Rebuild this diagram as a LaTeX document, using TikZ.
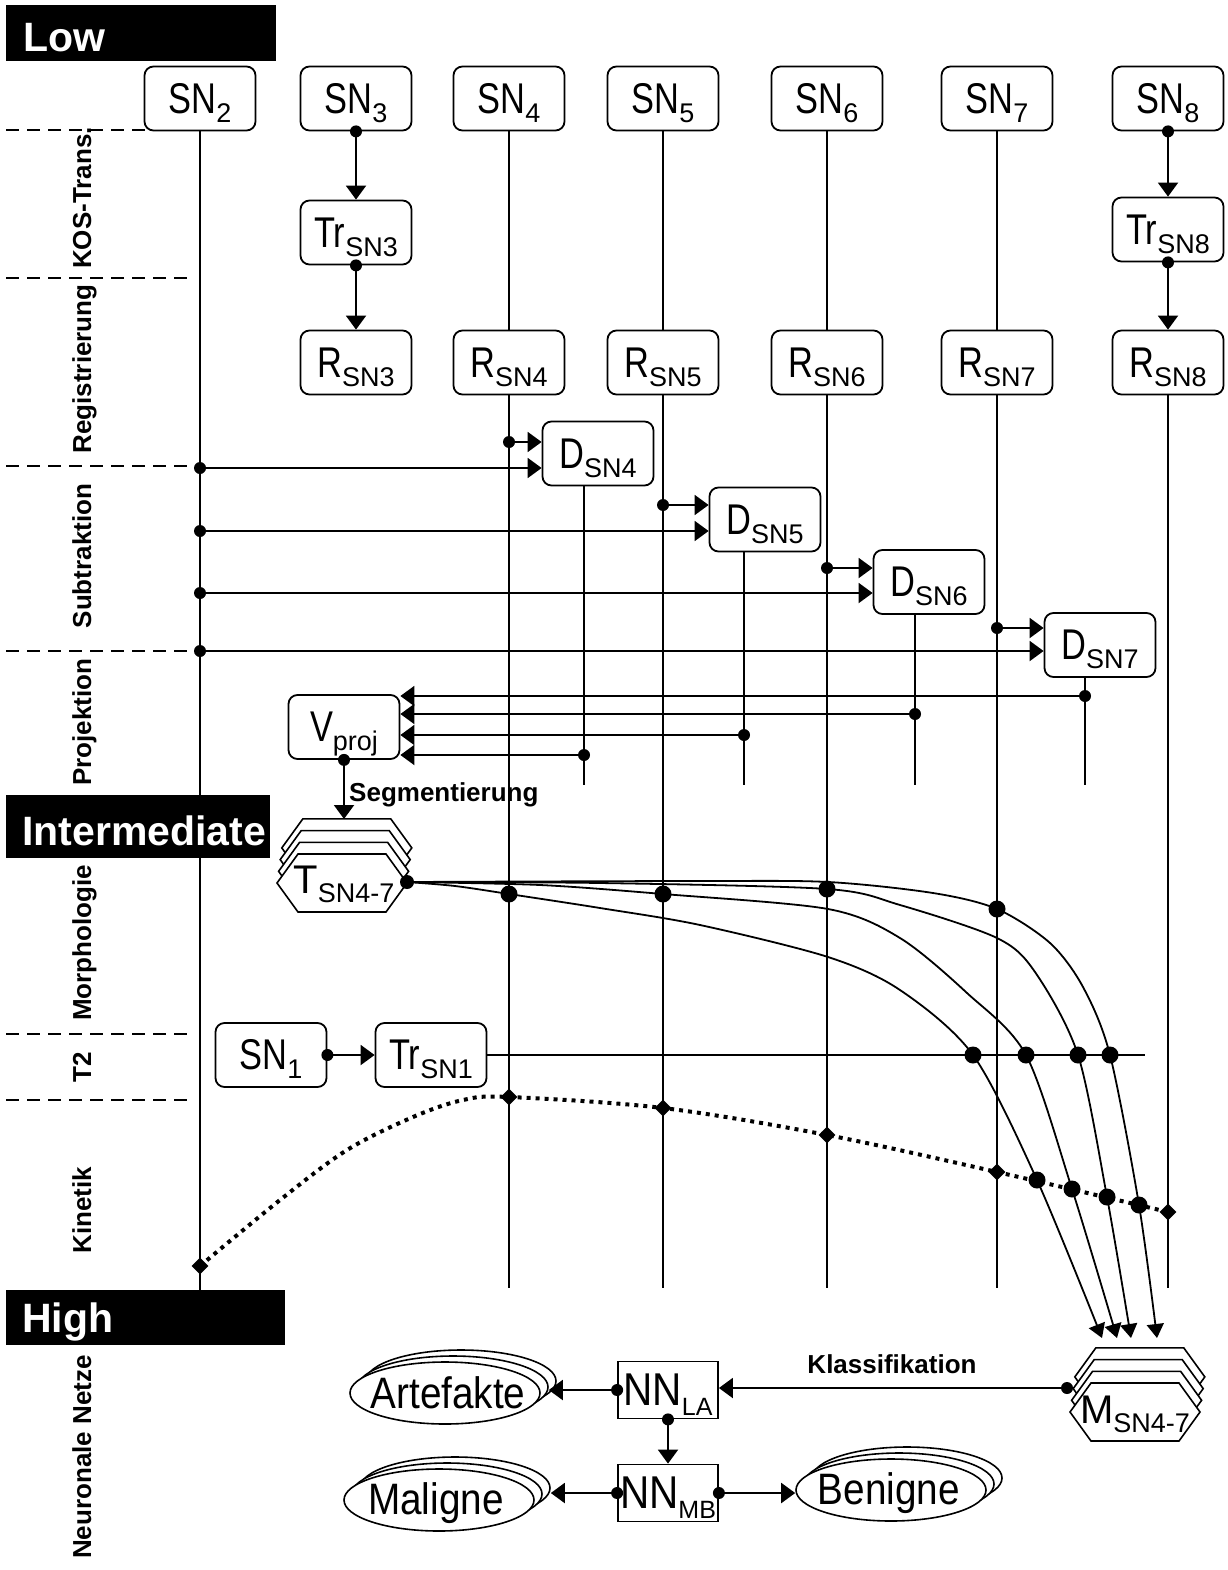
\documentclass[tikz,border=0pt]{standalone}
\usepackage{fontspec}
\setmainfont{Liberation Sans}
\newfontfamily\nar[FakeStretch=0.8]{Liberation Sans}
\newfontfamily\narb[FakeStretch=0.88]{Liberation Sans}
\usetikzlibrary{arrows.meta,shapes.geometric,calc}
\newcommand\lbl[2]{{\nar\fontsize{43}{43}\selectfont #1}\raisebox{-9pt}[0pt][0pt]{\fontsize{27}{27}\selectfont #2}}
\newcommand\lbln[2]{{\fontsize{40}{40}\selectfont #1}\raisebox{-9pt}[0pt][0pt]{\fontsize{27}{27}\selectfont #2}}
\newcommand\lblnn[2]{{\narb\fontsize{46}{46}\selectfont #1}\raisebox{-10pt}[0pt][0pt]{\fontsize{25}{25}\selectfont #2}}
\newcommand\hexat[2]{%
  \foreach \i in {3,2,1,0}{
    \draw[line width=1.6pt, fill=white] ({#1-65+1.6*\i},{#2-11.7*\i}) -- ({#1-44+1.6*\i},{#2-29-11.7*\i}) -- ({#1+44+1.6*\i},{#2-29-11.7*\i}) -- ({#1+65+1.6*\i},{#2-11.7*\i}) -- ({#1+44+1.6*\i},{#2+29-11.7*\i}) -- ({#1-44+1.6*\i},{#2+29-11.7*\i}) -- cycle;
  }}
\newcommand\dotat[2][6pt]{\fill (#2) circle (#1);}
\begin{document}
\begin{tikzpicture}[x=1pt,y=-1pt,
  box/.style={draw, line width=1.8pt, rounded corners=9pt, fill=white, minimum width=111pt, minimum height=64pt, inner sep=0pt},
  sqbox/.style={draw, line width=1.8pt, fill=white, minimum width=100pt, minimum height=57pt, inner sep=0pt},
  colline/.style={line width=1.4pt},
  conn/.style={line width=2pt, -{Triangle[length=14pt,width=20pt]}},
  link/.style={line width=1.8pt, -{Triangle[length=14pt,width=17pt]}},
  side/.style={rotate=90, anchor=base, inner sep=0pt, font=\bfseries\fontsize{26}{26}\selectfont},
  lab/.style={inner sep=0pt, font=\bfseries\fontsize{26}{26}\selectfont},
  banner/.style={anchor=base west, inner sep=0pt, text=white, font=\bfseries\fontsize{41}{41}\selectfont},
  dashln/.style={line width=1.4pt, dash pattern=on 13pt off 8pt},
  kin/.style={line width=4pt, dash pattern=on 4pt off 5pt},
  diam/.style={diamond, fill, inner sep=0pt, minimum size=17pt},
  ell/.style={ellipse, draw, line width=1.6pt, fill=white, minimum width=190pt, minimum height=62pt, inner sep=0pt},
  etext/.style={inner sep=0pt, anchor=base, font=\narb\fontsize{44}{44}\selectfont}
]
\useasboundingbox (0,0) rectangle (1227,1570);

% dashed separators
\draw[dashln] (6,130) -- (150,130);
\draw[dashln] (6,278) -- (187,278);
\draw[dashln] (6,466) -- (187,466);
\draw[dashln] (6,651) -- (187,651);
\draw[dashln] (6,1034) -- (187,1034);
\draw[dashln] (6,1100) -- (187,1100);

% side labels
\node[side] (l1) at (91,198) {KOS-Trans.};
\node[side] (l2) at (91,369) {Registrierung};
\node[side] (l3) at (91,556) {Subtraktion};
\node[side] (l4) at (91,722) {Projektion};
\node[side] (l5) at (91,943) {Morphologie};
\node[side] (l6) at (91,1067) {T2};
\node[side] (l7) at (91,1210) {Kinetik};
\node[side] (l8) at (91,1457) {Neuronale Netze};

% top boxes
\node[box] (SN2) at (200,98.5) {\lbl{SN}{2}};
\node[box] (SN3) at (356,98.5) {\lbl{SN}{3}};
\node[box] (SN4) at (509,98.5) {\lbl{SN}{4}};
\node[box] (SN5) at (663,98.5) {\lbl{SN}{5}};
\node[box] (SN6) at (827,98.5) {\lbl{SN}{6}};
\node[box] (SN7) at (997,98.5) {\lbl{SN}{7}};
\node[box] (SN8) at (1168,98.5) {\lbl{SN}{8}};
\node[box] (Tr3) at (356,232.5) {\lbl{Tr}{SN3}};
\node[box] (Tr8) at (1168,229.5) {\lbl{Tr}{SN8}};
\node[box] (R3) at (356,362.5) {\lbl{R}{SN3}};
\node[box] (R4) at (509,362.5) {\lbl{R}{SN4}};
\node[box] (R5) at (663,362.5) {\lbl{R}{SN5}};
\node[box] (R6) at (827,362.5) {\lbl{R}{SN6}};
\node[box] (R7) at (997,362.5) {\lbl{R}{SN7}};
\node[box] (R8) at (1168,362.5) {\lbl{R}{SN8}};

% column end coordinates
\coordinate (e2) at (200,1290);
\coordinate (e4) at (509,1288);
\coordinate (e5) at (663,1288);
\coordinate (e6) at (827,1288);
\coordinate (e7) at (997,1288);
\coordinate (e8) at (1168,1288);

% column lines
\draw[colline] (SN2.south) -- (e2);
\foreach \c in {4,5,6,7}{
  \draw[colline] (SN\c.south) -- (R\c.north);
  \draw[colline] (R\c.south) -- (e\c);
}
\draw[colline] (R8.south) -- (e8);

% banners (drawn over the column line)
\fill (6,5) rectangle (276,61);
\node[banner] (low) at (23,52) {Low};
\fill (6,795) rectangle (270,858);
\node[banner] (inter) at (22,845) {Intermediate};
\fill (6,1290) rectangle (285,1345);
\node[banner] (high) at (22,1332) {High};

% KOS arrows
\draw[conn] (SN3.south) -- (Tr3.north); \dotat{SN3.south}
\draw[conn] (Tr3.south) -- (R3.north); \dotat{Tr3.south}
\draw[conn] (SN8.south) -- (Tr8.north); \dotat{SN8.south}
\draw[conn] (Tr8.south) -- (R8.north); \dotat{Tr8.south}

% D boxes
\node[box] (D4) at (598,453.5) {\lbl{D}{SN4}};
\node[box] (D5) at (765,519.5) {\lbl{D}{SN5}};
\node[box] (D6) at (929,582) {\lbl{D}{SN6}};
\node[box] (D7) at (1100,645) {\lbl{D}{SN7}};

% subtraction arrows
\coordinate (a4) at (509,442); \coordinate (b4) at (200,468);
\coordinate (a5) at (663,505); \coordinate (b5) at (200,531);
\coordinate (a6) at (827,568); \coordinate (b6) at (200,593);
\coordinate (a7) at (997,628); \coordinate (b7) at (200,651);
\foreach \c in {4,5,6,7}{
  \draw[conn] (a\c) -- (D\c.west |- a\c);
  \draw[conn] (b\c) -- (D\c.west |- b\c);
  \dotat{a\c} \dotat{b\c}
}

% projection
\node[box] (Vp) at (344,727) {\lbl{V}{proj}};
\coordinate (p4) at (584,755); \coordinate (q4) at (584,785);
\coordinate (p5) at (744,735); \coordinate (q5) at (744,785);
\coordinate (p6) at (915,714); \coordinate (q6) at (915,785);
\coordinate (p7) at (1085,696); \coordinate (q7) at (1085,785);
\foreach \c in {4,5,6,7}{
  \draw[colline] (p\c |- D\c.south) -- (q\c);
}
\foreach \c in {7,6,5,4}{
  \draw[conn] (p\c) -- (Vp.east |- p\c);
  \dotat{p\c}
}

% segmentation
\coordinate (Ttop) at (344,819);
\draw[conn] (Vp.south) -- (Ttop); \dotat{Vp.south}
\node[lab, anchor=base west] (seg) at (349,801) {Segmentierung};
\hexat{342}{883}
\node[inner sep=0pt] (T) at (344,880) {\lbln{T}{SN4-7}};
\coordinate (Tout) at (407,882);

% T2 row
\node[box] (SN1) at (271,1055) {\lbl{SN}{1}};
\node[box] (Tr1) at (431,1055) {\lbl{Tr}{SN1}};
\coordinate (t2end) at (1145,1055);
\draw[conn] (SN1.east) -- (Tr1.west); \dotat{SN1.east}
\draw[colline, line width=1.6pt] (Tr1.east) -- (t2end);

% kinetik dotted curve
\node[diam] (k2) at (200,1266) {};
\node[diam] (k4) at (509,1097) {};
\node[diam] (k5) at (663,1108) {};
\node[diam] (k6) at (827,1135) {};
\node[diam] (k7) at (997,1172) {};
\node[diam] (k8) at (1168,1212) {};
\draw[kin] plot[smooth, tension=0.55] coordinates {(k2.center) (280,1200) (347,1150) (413,1117) (463,1100) (k4.center) (k5.center) (k6.center) (k7.center) (k8.center)};

% M hex
\hexat{1135}{1412}
\node[inner sep=0pt] (M) at (1135,1410) {\lbln{M}{SN4-7}};
\coordinate (Min) at (1067,1388);

% feature curves
\coordinate (cA) at (509,894);  \coordinate (tA) at (973,1055);  \coordinate (kA) at (1037,1180); \coordinate (mA) at (1102,1338);
\coordinate (cB) at (663,894);  \coordinate (tB) at (1026,1055); \coordinate (kB) at (1072,1189); \coordinate (mB) at (1117,1338);
\coordinate (cC) at (827,889);  \coordinate (tC) at (1078,1055); \coordinate (kC) at (1107,1197); \coordinate (mC) at (1131,1338);
\coordinate (cD) at (997,909);  \coordinate (tD) at (1110,1055); \coordinate (kD) at (1139,1205); \coordinate (mD) at (1157,1338);
\draw[link] plot[smooth, tension=0.5] coordinates {(Tout) (455,886) (cA) (600,908) (700,925) (828,957) (900,990) (tA) (kA) (mA)};
\draw[link] plot[smooth, tension=0.5] coordinates {(Tout) (540,885) (cB) (828,909) (900,938) (967,993) (tB) (kB) (mB)};
\draw[link] plot[smooth, tension=0.5] coordinates {(Tout) (600,883) (cC) (900,905) (997,938) (1035,972) (tC) (kC) (mC)};
\draw[link] plot[smooth, tension=0.5] coordinates {(Tout) (700,881) (828,882) (933,893) (cD) (1050,943) (1083,987) (tD) (kD) (mD)};
\dotat[7pt]{Tout}
\foreach \n in {A,B,C,D}{ \dotat[8.5pt]{c\n} \dotat[8.5pt]{t\n} \dotat[8.5pt]{k\n} }

% classification
\node[sqbox] (NNLA) at (668,1390) {\lblnn{NN}{LA}};
\node[sqbox] (NNMB) at (668,1493) {\lblnn{NN}{MB}};
\draw[conn] (Min) -- (NNLA.east |- Min); \dotat{Min}
\node[lab, anchor=base] (kl) at (892,1373) {Klassifikation};

% ellipse stacks
\node[ell] (Art2) at (461,1381) {};
\node[ell] (Art1) at (453,1387) {};
\node[ell] (Art) at (445,1393) {};
\node[etext] (ArtT) at (448,1408) {Artefakte};
\node[ell] (Mal2) at (455,1488) {};
\node[ell] (Mal1) at (447,1494) {};
\node[ell] (Mal) at (439,1500) {};
\node[etext] (MalT) at (436,1514) {Maligne};
\node[ell] (Ben2) at (907,1478) {};
\node[ell] (Ben1) at (899,1484) {};
\node[ell] (Ben) at (891,1490) {};
\node[etext] (BenT) at (889,1504) {Benigne};

\draw[conn] (NNLA.west) -- (Art1.east |- NNLA.west); \dotat{NNLA.west}
\draw[conn] (NNLA.south) -- (NNMB.north); \dotat{NNLA.south}
\draw[conn] (NNMB.west) -- (Mal2.east |- NNMB.west); \dotat{NNMB.west}
\draw[conn] (NNMB.east) -- (Ben.west |- NNMB.east); \dotat{NNMB.east}
\end{tikzpicture}
\end{document}
